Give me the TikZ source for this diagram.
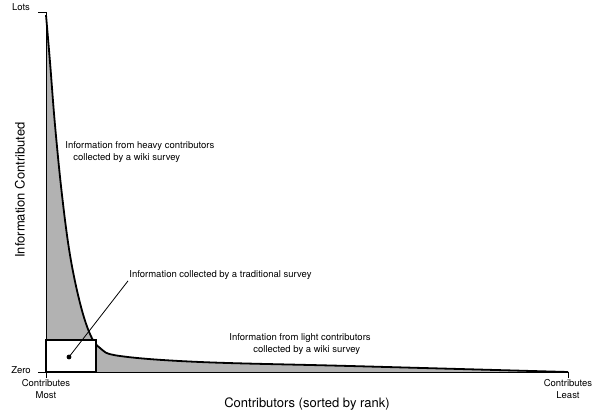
\documentclass[tikz,border=0pt]{standalone}
\usepackage{fontspec}
\setmainfont{TeX Gyre Heros}
\tikzset{every path/.style={black,thick}, lbl/.style={font=\fontsize{9.5}{12}\selectfont, align=left, anchor=west, inner sep=1pt}}
\begin{document}
\begin{tikzpicture}[x=1pt,y=-1pt]
  \useasboundingbox (0,0) rectangle (600,417);
  % filled area under the curve
  \fill[gray!60] (46,372) -- plot[smooth,tension=0.6] coordinates {(46,15) (50,62) (55,125) (62,195) (70,255) (80,303) (90,334) (100,348) (120,356) (200,362) (350,366) (568,372)} -- cycle;
  \draw[line width=1.8pt] plot[smooth,tension=0.6] coordinates {(46,15) (50,62) (55,125) (62,195) (70,255) (80,303) (90,334) (100,348) (120,356) (200,362) (350,366) (568,372)};
  % axes
  \coordinate (top) at (46,12);
  \coordinate (orig) at (46,372);
  \coordinate (far) at (568,372);
  \draw[thin] (38,12) -- (top) -- (orig) -- (far) -- (568,378);
  \draw[thin] (38,372) -- (orig) -- (46,378);
  % box for the traditional survey
  \draw[fill=white, line width=1.3pt] (46,340) rectangle (96,372);
  \fill (69,357) circle (2.4);
  \coordinate (dot) at (69,357);
  \node[lbl] (trad) at (128,275) {Information collected by a traditional survey};
  \draw (dot) -- (trad.south west);
  \node[lbl] (heavy) at (64,152) {Information from heavy contributors\\\hspace{8pt}collected by a wiki survey};
  \node[lbl] (light) at (228,344) {Information from light contributors\\\hspace{24pt}collected by a wiki survey};
  % axis labels
  \node[lbl, anchor=south] (lots) at (21,12) {Lots};
  \node[lbl, anchor=center] (zero) at (21,370) {Zero};
  \node[lbl, anchor=north, align=center] (most) at (46,378) {Contributes\\Most};
  \node[lbl, anchor=north, align=center] (least) at (568,378) {Contributes\\Least};
  \node[font=\fontsize{13}{15}\selectfont] (xlab) at (307,404) {Contributors (sorted by rank)};
  \node[font=\fontsize{13}{15}\selectfont, rotate=90] (ylab) at (20,190) {Information Contributed};
\end{tikzpicture}
\end{document}
